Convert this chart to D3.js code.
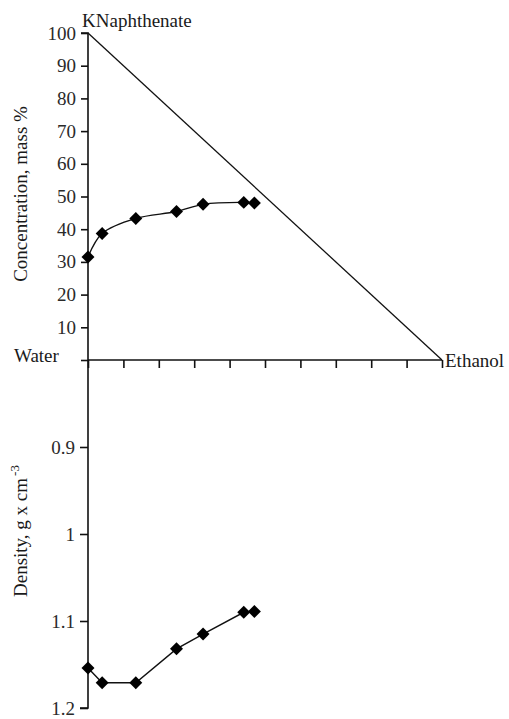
<!DOCTYPE html>
<html>
<head>
<meta charset="utf-8">
<script src="https://cdn.jsdelivr.net/npm/d3@7"></script>
<style>
  html, body { margin: 0; padding: 0; background: #fff; }
  svg { display: block; }
</style>
</head>
<body>
<script>
// ---- data ----
const xValues = [0, 4, 13.5, 25, 32.5, 44, 47];                     // ethanol share, % of triangle side
const concentration = [31.5, 38.7, 43.3, 45.4, 47.6, 48.2, 48.0];    // mass %
const density = [1.154, 1.171, 1.171, 1.132, 1.115, 1.090, 1.089];   // g x cm^-3
const concTicks = [0, 10, 20, 30, 40, 50, 60, 70, 80, 90, 100];
const densTicks = [0.9, 1, 1.1, 1.2];
const xTicks = [0, 10, 20, 30, 40, 50, 60, 70, 80, 90, 100];
const diagonal = [[0, 100], [100, 0]];

const FONT = '"Liberation Serif", "Times New Roman", Times, serif';
const W = 509, H = 719;
const svg = d3.select("body").append("svg").attr("width", W).attr("height", H)
  .attr("font-family", FONT);

const x = d3.scaleLinear().domain([0, 100]).range([88, 442]);
const yC = d3.scaleLinear().domain([0, 100]).range([360, 33]);
const yD = d3.scaleLinear().domain([0.8, 1.2]).range([360, 708]);

// top y axis
const axC = svg.append("g").attr("transform", `translate(${x(0)},0)`)
  .call(d3.axisLeft(yC).tickValues(concTicks).tickSize(7).tickPadding(5)
    .tickFormat(d => d === 0 ? "" : d));
// bottom y axis
const axD = svg.append("g").attr("transform", `translate(${x(0)},0)`)
  .call(d3.axisLeft(yD).tickValues(densTicks).tickSize(8).tickPadding(5)
    .tickFormat(d => d));
// x axis
const axX = svg.append("g").attr("transform", `translate(0,${yC(0)})`)
  .call(d3.axisBottom(x).tickValues(xTicks).tickSize(8).tickFormat(""));

[axC, axD, axX].forEach(g => {
  g.attr("font-family", FONT).attr("font-size", 19);
  g.selectAll(".domain").attr("stroke", "#111").attr("stroke-width", 1.6);
  g.selectAll(".tick line").attr("stroke", "#111").attr("stroke-width", 1.6);
  g.selectAll(".tick text").attr("font-size", 19).attr("fill", "#2a2a2a")
    .attr("font-family", FONT);
});
axX.select(".domain").attr("d", `M${x(0)},0H${x(100)}`);
axC.select(".domain").attr("d", `M-7,${yC(100)}H0V${yC(0)}`);
axD.select(".domain").attr("d", `M0,${yD(0.8)}V${yD(1.2)}H-8`);

// diagonal line
svg.append("path")
  .attr("d", d3.line().x(d => x(d[0])).y(d => yC(d[1]))(diagonal))
  .attr("fill", "none").attr("stroke", "#111").attr("stroke-width", 1.3);

// concentration series
const concData = xValues.map((v, i) => [v, concentration[i]]);
svg.append("path")
  .attr("d", d3.line().x(d => x(d[0])).y(d => yC(d[1])).curve(d3.curveCatmullRom.alpha(0.5))(concData))
  .attr("fill", "none").attr("stroke", "#111").attr("stroke-width", 1.4);

const densData = xValues.map((v, i) => [v, density[i]]);
svg.append("path")
  .attr("d", d3.line().x(d => x(d[0])).y(d => yD(d[1]))(densData))
  .attr("fill", "none").attr("stroke", "#111").attr("stroke-width", 1.4);

const diamond = d3.symbol().type(d3.symbolSquare).size(84)();
svg.append("g").selectAll("path").data(concData).join("path")
  .attr("d", diamond)
  .attr("transform", d => `translate(${x(d[0])},${yC(d[1])}) rotate(45)`)
  .attr("fill", "#000");
svg.append("g").selectAll("path").data(densData).join("path")
  .attr("d", diamond)
  .attr("transform", d => `translate(${x(d[0])},${yD(d[1])}) rotate(45)`)
  .attr("fill", "#000");

// labels
const lab = (xx, yy, t) => svg.append("text").attr("x", xx).attr("y", yy)
  .attr("font-size", 19).attr("font-family", FONT).attr("fill", "#1a1a1a").text(t);
lab(82, 27, "KNaphthenate");
lab(14, 362, "Water");
lab(445, 367, "Ethanol");

svg.append("text")
  .attr("transform", "translate(27,194) rotate(-90)")
  .attr("text-anchor", "middle").attr("font-size", 19).attr("font-family", FONT).attr("fill", "#1a1a1a")
  .text("Concentration, mass %");

const dl = svg.append("text")
  .attr("transform", "translate(27,597) rotate(-90)")
  .attr("font-size", 19).attr("font-family", FONT).attr("fill", "#1a1a1a");
dl.append("tspan").text("Density, g x cm");
dl.append("tspan").attr("dy", -8).attr("dx", 2).attr("font-size", 13).text("-3");
</script>
</body>
</html>
